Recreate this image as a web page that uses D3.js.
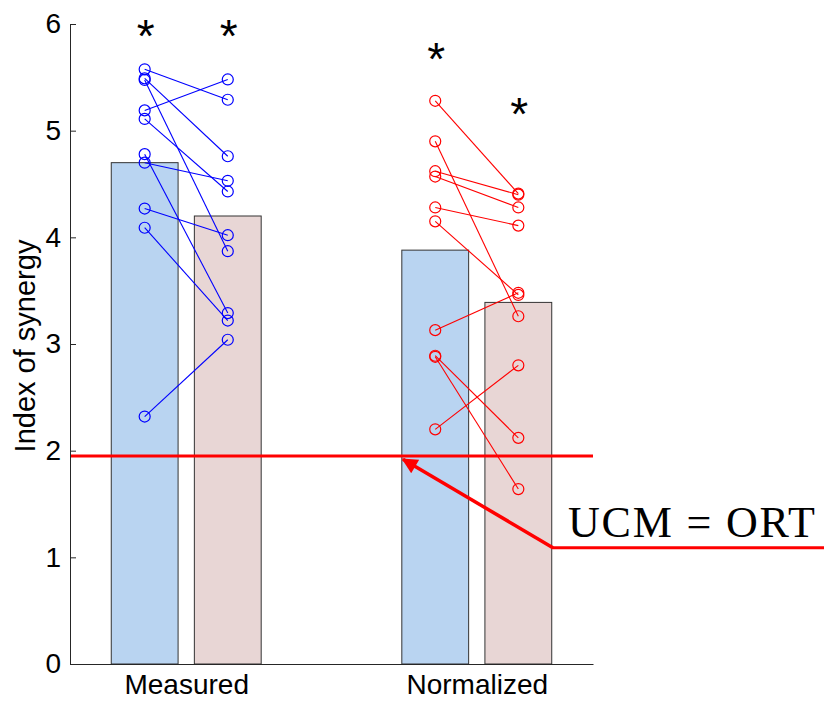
<!DOCTYPE html>
<html>
<head>
<meta charset="utf-8">
<script src="https://cdn.jsdelivr.net/npm/d3@7"></script>
<style>
  html, body { margin: 0; padding: 0; background: #fff; }
  svg { display: block; }
</style>
</head>
<body>
<svg id="chart" width="824" height="702"></svg>
<script>
// ---- data ----
const categories = ["Measured", "Normalized"];
const yTicks = [0, 1, 2, 3, 4, 5, 6];
const barBlue = [4.70, 3.88];
const barPink = [4.20, 3.39];

// paired individual values (left bar -> right bar)
const measuredLeft  = [5.575, 5.49, 5.475, 5.19, 5.11, 4.78, 4.70, 4.27, 4.09, 2.32];
const measuredRight = [5.29, 4.76, 3.87, 5.48, 4.43, 3.29, 4.53, 4.02, 3.22, 3.04];
const normalizedLeft  = [5.28, 4.90, 4.62, 4.57, 4.28, 4.15, 3.13, 2.89, 2.88, 2.20];
const normalizedRight = [4.41, 3.26, 4.40, 4.28, 4.11, 3.46, 3.48, 2.12, 1.64, 2.80];

// significance markers: [category index, bar (0 left / 1 right), y value]
const starsCat = [0, 0, 1, 1];
const starsBar = [0, 1, 0, 1];
const starsY   = [5.925, 5.925, 5.71, 5.19];

const threshold = 1.95;
const annotationText = "UCM = ORT";

// ---- layout ----
const svg = d3.select("#chart");
const x = d3.scaleLinear().domain([0.6, 2.4]).range([70, 593]);
const y = d3.scaleLinear().domain([0, 6]).range([664, 24]);
const offset = 0.143;   // bar centre offset from group centre
const barW = 0.23;      // bar width in x units
const axisColor = "#262626";
const font = "'Liberation Sans', Arial, Helvetica, sans-serif";

// bars
const bars = [];
categories.forEach((c, i) => {
  bars.push({ cx: i + 1 - offset, v: barBlue[i], fill: "#b9d4f1" });
  bars.push({ cx: i + 1 + offset, v: barPink[i], fill: "#e8d6d5" });
});
svg.append("g").selectAll("rect").data(bars).join("rect")
  .attr("x", d => x(d.cx - barW / 2))
  .attr("width", d => x(d.cx + barW / 2) - x(d.cx - barW / 2))
  .attr("y", d => y(d.v))
  .attr("height", d => y(0) - y(d.v))
  .attr("fill", d => d.fill)
  .attr("stroke", "#333")
  .attr("stroke-width", 1);

// paired lines + markers
function drawPairs(left, right, ci, color) {
  const g = svg.append("g");
  const xl = x(ci + 1 - offset), xr = x(ci + 1 + offset);
  left.forEach((lv, k) => {
    g.append("line")
      .attr("x1", xl).attr("y1", y(lv))
      .attr("x2", xr).attr("y2", y(right[k]))
      .attr("stroke", color).attr("stroke-width", 1.1);
  });
  const pts = left.map(v => [xl, v]).concat(right.map(v => [xr, v]));
  g.selectAll("circle").data(pts).join("circle")
    .attr("cx", d => d[0]).attr("cy", d => y(d[1]))
    .attr("r", 5.5)
    .attr("fill", "none")
    .attr("stroke", color).attr("stroke-width", 1.2);
}
drawPairs(measuredLeft, measuredRight, 0, "#0000ff");
drawPairs(normalizedLeft, normalizedRight, 1, "#ff0000");

// threshold line
svg.append("line")
  .attr("x1", x(0.6)).attr("x2", x(2.4))
  .attr("y1", y(threshold)).attr("y2", y(threshold))
  .attr("stroke", "#ff0000").attr("stroke-width", 3);

// axes
const yAxis = d3.axisLeft(y).tickValues(yTicks).tickFormat(d3.format("d"))
  .tickSizeInner(-6).tickSizeOuter(0).tickPadding(9);
const gy = svg.append("g").attr("transform", `translate(${x(0.6)},0)`).call(yAxis);
gy.select(".domain").attr("stroke", axisColor);
gy.selectAll(".tick line").attr("stroke", axisColor);
gy.selectAll(".tick text").attr("font-family", font).attr("font-size", 28).attr("fill", "#000");

const xAxis = d3.axisBottom(x).tickValues([1, 2]).tickFormat(d => categories[d - 1])
  .tickSize(0).tickPadding(10);
const gx = svg.append("g").attr("transform", `translate(0,${y(0)})`).call(xAxis);
gx.select(".domain").attr("stroke", axisColor);
gx.selectAll(".tick text").attr("font-family", font).attr("font-size", 28).attr("fill", "#000");

// y-axis label
svg.append("text")
  .attr("transform", `translate(35,${(y(0) + y(6)) / 2 + 2}) rotate(-90)`)
  .attr("text-anchor", "middle")
  .attr("font-family", font).attr("font-size", 29)
  .text("Index of synergy");

// stars
svg.append("g").selectAll("text").data(starsY).join("text")
  .attr("x", (d, i) => x(starsCat[i] + 1 + (starsBar[i] ? offset : -offset)) + 1)
  .attr("y", d => y(d) + 20)
  .attr("text-anchor", "middle")
  .attr("font-family", font).attr("font-size", 46)
  .attr("fill", "#000")
  .text("*");

// annotation arrow
const tip = [x(1.746), y(1.92)];
const elbow = [x(2.262), y(1.09)];
const defs = svg.append("defs");
defs.append("marker").attr("id", "ah")
  .attr("viewBox", "0 0 10 10").attr("refX", 9).attr("refY", 5)
  .attr("markerWidth", 5.5).attr("markerHeight", 4.5).attr("markerUnits", "strokeWidth")
  .attr("orient", "auto")
  .append("path").attr("d", "M0,0 L10,5 L0,10 Z").attr("fill", "#ff0000");
svg.append("line")
  .attr("x1", elbow[0]).attr("y1", elbow[1])
  .attr("x2", tip[0]).attr("y2", tip[1])
  .attr("stroke", "#ff0000").attr("stroke-width", 3.5)
  .attr("marker-end", "url(#ah)");
svg.append("line")
  .attr("x1", elbow[0] - 1).attr("y1", elbow[1])
  .attr("x2", 824).attr("y2", elbow[1])
  .attr("stroke", "#ff0000").attr("stroke-width", 3);
svg.append("text")
  .attr("x", x(2.314)).attr("y", y(1.19))
  .attr("font-family", "'Liberation Serif', 'DejaVu Serif', serif")
  .attr("font-size", 44)
  .attr("textLength", 247).attr("lengthAdjust", "spacing")
  .text(annotationText);
</script>
</body>
</html>
